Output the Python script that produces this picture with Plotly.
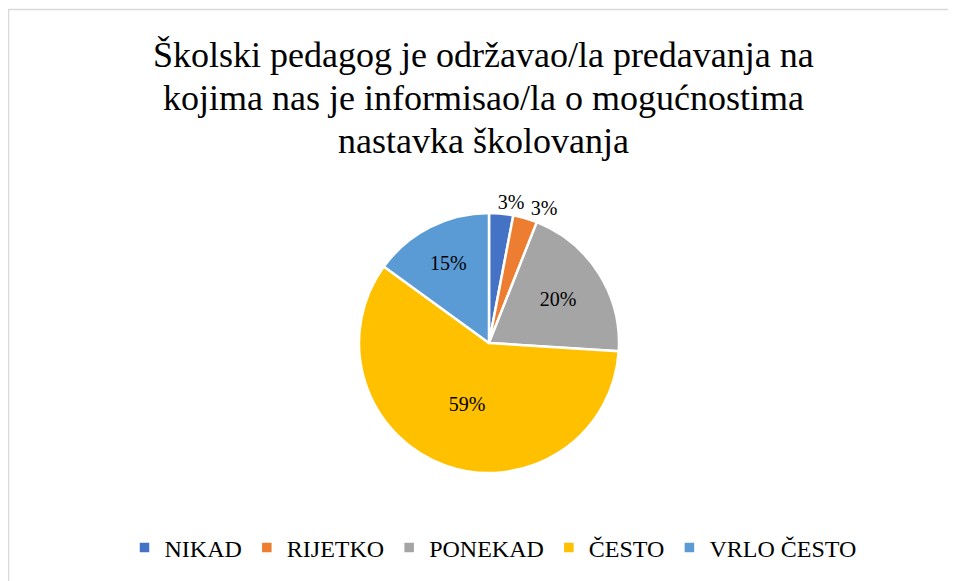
import plotly.graph_objects as go

categories = ["NIKAD", "RIJETKO", "PONEKAD", "ČESTO", "VRLO ČESTO"]
values = [3, 3, 20, 59, 15]
colors = ["#4472C4", "#ED7D31", "#A5A5A5", "#FFC000", "#5B9BD5"]
title_lines = [
    "Školski pedagog je održavao/la predavanja na",
    "kojima nas je informisao/la o mogućnostima",
    "nastavka školovanja",
]

FONT = "Liberation Serif, Times New Roman, serif"
W, H = 956, 581
# page body adds an 8px offset; positions below are in figure pixels
cx, cy, r = 481, 335, 130
dom = dict(x=[(cx - r) / W, (cx + r) / W], y=[(H - cy - r) / H, (H - cy + r) / H])

# main pie: slices + inside labels + label for RIJETKO
pos_main = ["none", "outside", "inside", "inside", "inside"]
# helper transparent pie: only the NIKAD outside label (avoids label collision shifting)
pos_aux = ["outside", "none", "none", "none", "none"]

fig = go.Figure()
fig.add_trace(go.Pie(
    labels=categories,
    values=values,
    sort=False,
    direction="clockwise",
    rotation=0,
    marker=dict(colors=colors, line=dict(color="white", width=2.5)),
    texttemplate="%{percent:.0%}",
    textposition=pos_main,
    insidetextorientation="horizontal",
    textfont=dict(family=FONT, size=20, color="#000000"),
    domain=dom,
    hoverinfo="label+percent",
))
fig.add_trace(go.Pie(
    labels=categories,
    values=values,
    sort=False,
    direction="clockwise",
    rotation=-4,
    marker=dict(colors=["rgba(0,0,0,0)"] * len(values), line=dict(width=0)),
    texttemplate="%{percent:.0%}",
    textposition=pos_aux,
    textfont=dict(family=FONT, size=20, color="#000000"),
    domain=dom,
    showlegend=False,
    hoverinfo="skip",
))

title_y = [47, 90, 133]
annotations = [
    dict(text=t, x=475 / W, y=1 - yy / H, xref="paper", yref="paper",
         xanchor="center", yanchor="middle", showarrow=False,
         font=dict(family=FONT, size=36, color="#000000"))
    for t, yy in zip(title_lines, title_y)
]

fig.update_layout(
    width=W, height=H,
    margin=dict(l=0, r=0, t=0, b=0),
    paper_bgcolor="white",
    plot_bgcolor="white",
    annotations=annotations,
    legend=dict(
        orientation="h",
        x=485 / W, xanchor="center",
        y=1 - 540 / H, yanchor="middle",
        font=dict(family=FONT, size=24, color="#000000"),
        itemwidth=30,
        traceorder="normal",
    ),
    shapes=[dict(
        type="rect", xref="paper", yref="paper",
        x0=0.5 / W, x1=1.02, y0=-0.02, y1=1 - 1.5 / H,
        line=dict(color="#d9d9d9", width=1.5),
        fillcolor="rgba(0,0,0,0)",
        layer="below",
    )],
)

fig.write_html("out.html")
